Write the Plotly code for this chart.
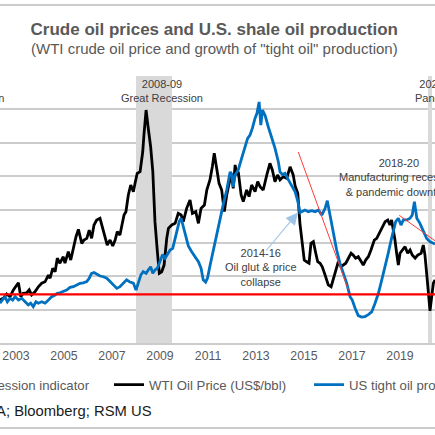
import plotly.graph_objects as go

# ---------------- data ----------------
wti_dates = [2002.33, 2002.47, 2002.61, 2002.75, 2002.89, 2003.00, 2003.10, 2003.20, 2003.30, 2003.45,
             2003.55, 2003.65, 2003.79, 2003.93, 2004.07, 2004.21, 2004.35, 2004.42, 2004.53, 2004.63,
             2004.72, 2004.83, 2004.97, 2005.04, 2005.18, 2005.28, 2005.42, 2005.50, 2005.60, 2005.74,
             2005.83, 2005.95, 2006.05, 2006.15, 2006.25, 2006.36, 2006.50, 2006.61, 2006.71, 2006.80,
             2006.92, 2007.03, 2007.13, 2007.22, 2007.33, 2007.40, 2007.50, 2007.58, 2007.68, 2007.78,
             2007.89, 2007.96, 2008.05, 2008.17, 2008.28, 2008.33, 2008.42, 2008.51, 2008.61, 2008.70,
             2008.79, 2008.89, 2008.97, 2009.07, 2009.17, 2009.28, 2009.35, 2009.49, 2009.63, 2009.76,
             2009.88, 2009.97, 2010.11, 2010.25, 2010.35, 2010.49, 2010.60, 2010.71, 2010.85, 2010.95,
             2011.08, 2011.18, 2011.26, 2011.36, 2011.46, 2011.57, 2011.68, 2011.78, 2011.88, 2011.99,
             2012.05, 2012.13, 2012.20, 2012.26, 2012.38, 2012.47, 2012.61, 2012.71, 2012.82, 2012.96,
             2013.07, 2013.17, 2013.30, 2013.45, 2013.58, 2013.68, 2013.79, 2013.90, 2014.00, 2014.14,
             2014.28, 2014.42, 2014.55, 2014.63, 2014.74, 2014.83, 2014.93, 2015.01, 2015.11, 2015.21,
             2015.29, 2015.39, 2015.49, 2015.57, 2015.67, 2015.76, 2015.88, 2016.01, 2016.13, 2016.22,
             2016.32, 2016.43, 2016.54, 2016.64, 2016.74, 2016.85, 2016.96, 2017.05, 2017.15, 2017.26,
             2017.38, 2017.47, 2017.57, 2017.68, 2017.79, 2017.93, 2018.03, 2018.13, 2018.26, 2018.38,
             2018.49, 2018.58, 2018.65, 2018.72, 2018.79, 2018.86, 2018.93, 2019.00, 2019.10, 2019.21,
             2019.32, 2019.42, 2019.51, 2019.63, 2019.74, 2019.88, 2019.97, 2020.04, 2020.11, 2020.18,
             2020.25, 2020.32, 2020.39, 2020.46]
wti_price = [25.8, 26.8, 29.4, 27.7, 31.8, 33.7, 36.1, 27.7, 29.8, 30.1,
             31.8, 28.8, 30.7, 33.7, 35.8, 36.7, 40.7, 38.8, 44.8, 42.7,
             50.8, 47.8, 51.7, 47.8, 54.7, 49.7, 59.7, 63.7, 68.1, 59.7,
             61.7, 62.7, 67.7, 62.7, 70.7, 73.7, 74.7, 68.7, 62.7, 58.7,
             61.7, 58.1, 61.7, 66.7, 64.7, 70.7, 76.7, 78.7, 88.7, 94.7,
             90.7, 95.7, 101.7, 102.7, 114.6, 124.6, 139.6, 128.7, 117.6, 102.7,
             72.7, 54.7, 41.8, 42.7, 46.7, 62.7, 68.7, 70.7, 71.7, 77.7,
             76.7, 72.7, 80.7, 85.7, 77.7, 78.7, 71.7, 80.7, 82.7, 91.7,
             97.7, 105.6, 113.7, 104.7, 95.7, 91.7, 78.7, 88.7, 95.7, 100.7,
             92.7, 106.7, 100.7, 102.7, 88.7, 84.7, 91.7, 87.7, 94.7, 90.7,
             96.7, 93.7, 91.7, 100.7, 107.7, 103.7, 96.7, 100.7, 97.7, 99.7,
             98.7, 105.6, 100.7, 94.1, 89.7, 71.7, 59.7, 49.7, 48.7, 47.8,
             59.7, 60.7, 53.8, 48.7, 47.8, 45.7, 40.7, 34.8, 33.7, 37.8,
             43.7, 48.7, 45.7, 46.7, 47.8, 50.8, 53.8, 52.7, 50.8, 51.7,
             48.7, 46.7, 49.7, 51.7, 55.7, 61.7, 62.7, 65.7, 68.7, 72.7,
             73.7, 70.7, 73.7, 68.7, 61.7, 53.8, 46.7, 53.8, 55.7, 57.7,
             53.8, 55.7, 52.7, 50.8, 52.7, 53.8, 58.7, 52.7, 41.8, 27.7,
             19.2, 27.7, 35.8, 37.8]

shale_dates = [2002.33, 2002.45, 2002.54, 2002.64, 2002.75, 2002.86, 2002.96, 2003.10, 2003.24, 2003.38,
               2003.51, 2003.61, 2003.72, 2003.83, 2003.93, 2004.07, 2004.21, 2004.35, 2004.49, 2004.63,
               2004.72, 2004.83, 2004.97, 2005.11, 2005.25, 2005.39, 2005.53, 2005.67, 2005.80, 2005.95,
               2006.05, 2006.15, 2006.25, 2006.36, 2006.50, 2006.64, 2006.78, 2006.92, 2007.05, 2007.20,
               2007.33, 2007.47, 2007.61, 2007.75, 2007.89, 2008.00, 2008.10, 2008.20, 2008.30, 2008.42,
               2008.51, 2008.61, 2008.70, 2008.79, 2008.89, 2009.00, 2009.11, 2009.21, 2009.30, 2009.42,
               2009.53, 2009.63, 2009.72, 2009.80, 2009.88, 2009.97, 2010.08, 2010.18, 2010.32, 2010.46,
               2010.60, 2010.71, 2010.80, 2010.90, 2010.98, 2011.08, 2011.22, 2011.36, 2011.50, 2011.64,
               2011.78, 2011.92, 2011.99, 2012.05, 2012.13, 2012.26, 2012.40, 2012.54, 2012.65, 2012.75,
               2012.85, 2012.96, 2013.04, 2013.13, 2013.20, 2013.27, 2013.38, 2013.51, 2013.65, 2013.79,
               2013.93, 2014.00, 2014.10, 2014.21, 2014.35, 2014.49, 2014.63, 2014.74, 2014.83, 2014.90,
               2015.04, 2015.18, 2015.32, 2015.46, 2015.60, 2015.74, 2015.88, 2015.97, 2016.08, 2016.22,
               2016.36, 2016.50, 2016.64, 2016.78, 2016.92, 2017.01, 2017.13, 2017.26, 2017.40, 2017.54,
               2017.68, 2017.82, 2017.96, 2018.10, 2018.24, 2018.38, 2018.51, 2018.63, 2018.72, 2018.82,
               2018.93, 2019.04, 2019.14, 2019.28, 2019.42, 2019.51, 2019.60, 2019.70, 2019.83, 2019.97,
               2020.11, 2020.25, 2020.39, 2020.46]
shale_growth = [-3.6, -2.3, -0.9, -3.0, -1.6, -2.3, -0.9, -2.3, -1.6, -3.0,
                -4.3, -3.6, -5.0, -3.0, -3.6, -3.0, -3.6, -2.3, -0.9, -0.2,
                0.5, 0.7, 1.1, 1.8, 2.9, 3.2, 3.9, 4.6, 4.8, 5.3,
                6.7, 8.7, 9.0, 8.4, 7.6, 7.3, 6.7, 5.3, 3.9, 2.5,
                3.2, 4.6, 6.0, 5.1, 4.7, 1.8, 5.3, 8.0, 9.4, 8.7,
                10.1, 11.4, 8.7, 10.1, 10.8, 13.5, 16.5, 14.9, 16.3, 18.3,
                19.0, 23.1, 25.9, 30.0, 31.4, 27.6, 23.1, 20.0, 17.6, 15.6,
                13.5, 10.8, 6.0, 5.1, 6.8, 11.7, 18.3, 25.3, 31.1, 37.3,
                43.0, 50.5, 49.6, 44.3, 49.2, 51.3, 56.1, 60.2, 64.3, 65.7,
                68.5, 72.6, 74.6, 79.3, 69.8, 76.0, 73.7, 69.1, 64.7, 60.3,
                54.7, 50.5, 49.4, 49.9, 47.2, 44.4, 42.3, 38.5, 33.8, 34.1,
                34.8, 34.1, 34.5, 34.1, 34.8, 32.7, 35.5, 38.6, 32.7, 25.9,
                18.3, 12.8, 8.7, 4.6, -0.9, -2.3, -5.7, -8.7, -9.3, -9.1,
                -8.3, -7.2, -3.6, 0.5, 6.0, 11.4, 17.0, 22.4, 26.6, 30.0,
                31.4, 28.6, 30.7, 30.7, 31.4, 32.7, 38.2, 31.4, 29.3, 25.9,
                23.1, 21.7, 21.1, 20.8]

recession_months = (["2001-%02d" % m for m in range(3, 12)]
                    + ["2008-%02d" % m for m in range(1, 13)]
                    + ["2009-%02d" % m for m in range(1, 7)]
                    + ["2020-03", "2020-04"])
recession_level = 160

year_ticks = [2003, 2005, 2007, 2009, 2011, 2013, 2015, 2017, 2019]

# hand-drawn red trend lines (x in years, y in US$/bbl)
trend_line_1 = [(2014.76, 114.5), (2016.85, 31.8)]
trend_line_2 = [(2018.97, 76.5), (2021.21, 53.6)]

# ---------------- layout constants ----------------
W, H = 435, 435
M_T, M_B = 76, 92
PLOT_H = H - M_T - M_B
X_RANGE = [2002.333, 2020.458]
FONT = "Liberation Sans, Arial, sans-serif"
GREY_TXT = "#595959"
ANN_TXT = "#404040"
GRID = "#CCCCCC"


def px_x(p):
    return p / W


def px_y(p):
    return (H - M_B - p) / PLOT_H


def month_center(s):
    y, m = s.split("-")
    return int(y) + (int(m) - 0.5) / 12


fig = go.Figure()

fig.add_trace(go.Bar(
    x=[month_center(s) for s in recession_months],
    y=[recession_level] * len(recession_months),
    width=1 / 12, marker=dict(color="#D9D9D9", line=dict(width=0)),
    name="Recession indicator", legend="legend", hoverinfo="skip"))

fig.add_trace(go.Scatter(
    x=wti_dates, y=wti_price, mode="lines",
    line=dict(color="#000000", width=2.8),
    name="WTI Oil Price (US$/bbl)", legend="legend2"))

fig.add_trace(go.Scatter(
    x=shale_dates, y=shale_growth, mode="lines", yaxis="y2",
    line=dict(color="#0070C0", width=2.8),
    name="US tight oil production (% y/y, RHS)", legend="legend3"))

shapes = [
    # zero line of the growth axis
    dict(type="line", xref="paper", x0=0, x1=1, yref="y2", y0=0, y1=0,
         line=dict(color="#FF0000", width=2.2), layer="above"),
    dict(type="line", xref="x", yref="y",
         x0=trend_line_1[0][0], y0=trend_line_1[0][1], x1=trend_line_1[1][0], y1=trend_line_1[1][1],
         line=dict(color="#FF3B3B", width=1), layer="above"),
    dict(type="line", xref="x", yref="y",
         x0=trend_line_2[0][0], y0=trend_line_2[0][1], x1=trend_line_2[1][0], y1=trend_line_2[1][1],
         line=dict(color="#FF3B3B", width=1), layer="above"),
    # chart border (top and bottom edges)
    dict(type="line", xref="paper", yref="paper", x0=0, x1=1, y0=px_y(5), y1=px_y(5),
         line=dict(color=GRID, width=2), layer="above"),
    dict(type="line", xref="paper", yref="paper", x0=0, x1=1, y0=px_y(428), y1=px_y(428),
         line=dict(color=GRID, width=2), layer="above"),
]

ann_font = dict(family=FONT, size=11, color=ANN_TXT)
annotations = [
    dict(text="(WTI crude oil price and growth of \"tight oil\" production)",
         xref="paper", yref="paper", x=px_x(214.7), y=px_y(48.5), showarrow=False,
         xanchor="center", yanchor="middle", font=dict(family=FONT, size=15, color=GREY_TXT)),
    dict(text="2001<br>Recession", xref="paper", yref="paper", x=px_x(-21.7), y=px_y(91),
         showarrow=False, xanchor="center", yanchor="middle", font=ann_font),
    dict(text="2008-09<br>Great Recession", xref="paper", yref="paper", x=px_x(161.5), y=px_y(91),
         showarrow=False, xanchor="center", yanchor="middle", font=ann_font),
    dict(text="2020-21<br>Pandemic", xref="paper", yref="paper", x=px_x(439.3), y=px_y(91),
         showarrow=False, xanchor="center", yanchor="middle", font=ann_font),
    dict(text="2014-16<br>Oil glut & price<br>collapse", xref="paper", yref="paper",
         x=px_x(261), y=px_y(267.5), showarrow=False, xanchor="center", yanchor="middle", font=ann_font),
    dict(text="2018-20<br>Manufacturing recession<br>& pandemic downturn", xref="paper", yref="paper",
         x=px_x(398.5), y=px_y(177.5), showarrow=False, xanchor="center", yanchor="middle", font=ann_font),
    dict(text="", xref="paper", yref="paper", x=px_x(298), y=px_y(212.5), ax=-33, ay=39.5,
         showarrow=True, arrowhead=2, arrowsize=2.2, arrowwidth=1.1, arrowcolor="#9DC3E6"),
    dict(text="Source: EIA; Bloomberg; RSM US", xref="paper", yref="paper", x=px_x(153.5), y=px_y(411),
         showarrow=False, xanchor="right", yanchor="middle", font=dict(family=FONT, size=14.8, color="#1A1A1A")),
]

leg_common = dict(orientation="h", bgcolor="rgba(0,0,0,0)", borderwidth=0,
                  font=dict(family=FONT, size=13.2, color=GREY_TXT),
                  xanchor="left", yanchor="middle", y=px_y(385))

fig.update_layout(
    width=W, height=H,
    margin=dict(l=0, r=0, t=M_T, b=M_B, autoexpand=False),
    paper_bgcolor="white", plot_bgcolor="white",
    font=dict(family=FONT, color=GREY_TXT),
    title=dict(text="<b>Crude oil prices and U.S. shale oil production</b>",
               x=px_x(214.3), xanchor="center", y=1 - 29.5 / H, yanchor="middle",
               font=dict(family=FONT, size=17, color=GREY_TXT)),
    bargap=0,
    showlegend=True,
    legend=dict(x=px_x(-66), **leg_common),
    legend2=dict(x=px_x(109), **leg_common),
    legend3=dict(x=px_x(309), **leg_common),
    xaxis=dict(range=X_RANGE, tickvals=year_ticks, tickformat="d", showgrid=False,
               ticks="", showline=True, linecolor=GRID, linewidth=2, zeroline=False,
               tickfont=dict(family=FONT, size=12.3, color=GREY_TXT)),
    yaxis=dict(range=[0, 160], dtick=20, showgrid=True, gridcolor=GRID, gridwidth=2,
               showticklabels=False, zeroline=False, ticks=""),
    yaxis2=dict(range=[-20, 90], overlaying="y", side="right", showgrid=False,
                showticklabels=False, zeroline=False, ticks=""),
    shapes=shapes, annotations=annotations,
)

fig.write_html("out.html",
               config={"displayModeBar": False},
               post_script="document.body.style.margin='0';document.body.style.padding='0';"
                           "document.body.style.overflow='hidden';")
